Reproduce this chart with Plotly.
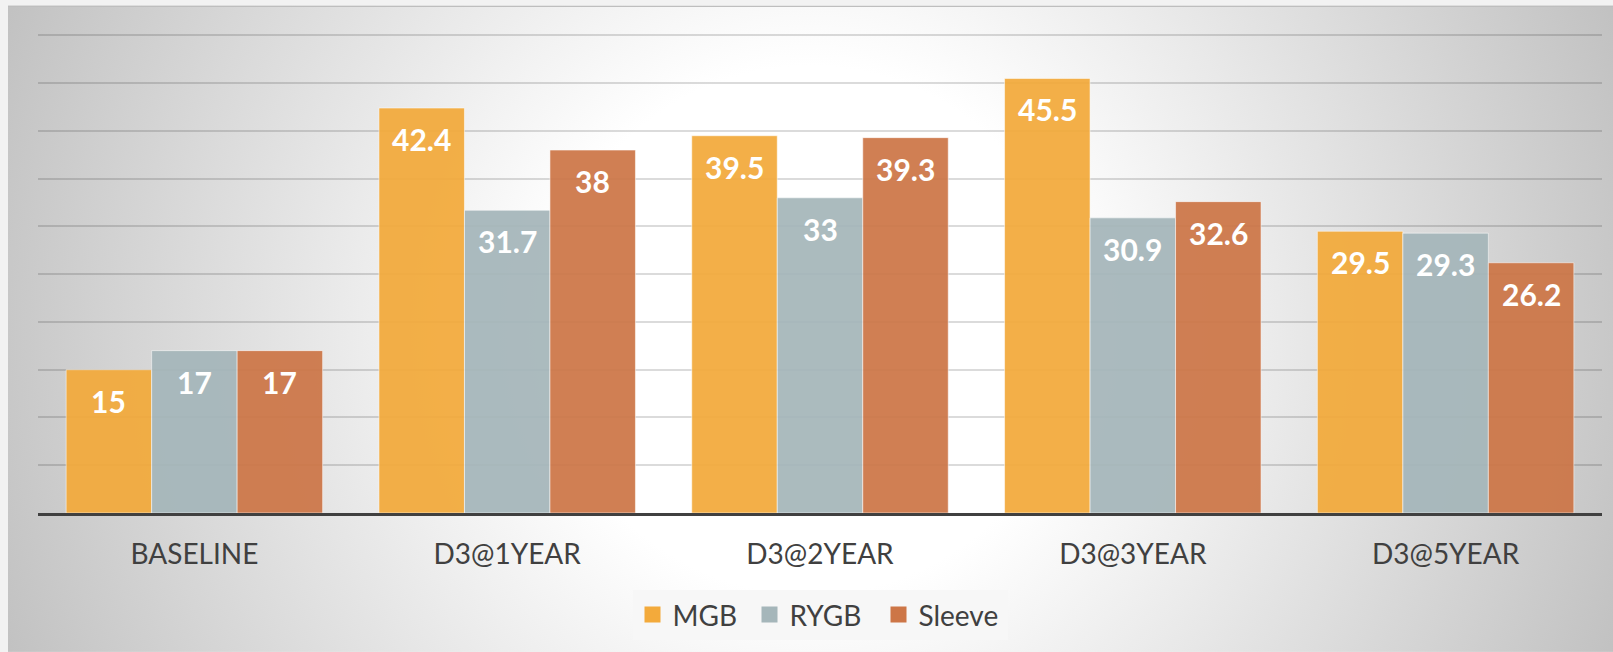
import base64
import plotly.graph_objects as go

# data
categories = ["BASELINE", "D3@1YEAR", "D3@2YEAR", "D3@3YEAR", "D3@5YEAR"]
series_names = ["MGB", "RYGB", "Sleeve"]
mgb = [15, 42.4, 39.5, 45.5, 29.5]
rygb = [17, 31.7, 33, 30.9, 29.3]
sleeve = [17, 38, 39.3, 32.6, 26.2]
colors = ["#f3aa3b", "#a5b6ba", "#cd7647"]
legend_widths = [72, 84, 84]  # px per legend entry, to spread them like the slide

W, H = 1613, 652
ymax = 50.15  # a hair over 50 so the top grid line is kept
ml, mr, mt, mb = 38, 11, 33.6, 139
plot_w = W - ml - mr
plot_h = H - mt - mb
bargap = 0.18
bar_px = plot_w / len(categories) * (1 - bargap) / 3

# soft radial background panel like the slide
svg = (
    '<svg xmlns="http://www.w3.org/2000/svg" width="1605" height="647" '
    'viewBox="0 0 1605 647" preserveAspectRatio="none">'
    '<defs><radialGradient id="g" gradientUnits="userSpaceOnUse" cx="802" cy="325" r="880">'
    '<stop offset="0.3" stop-color="#ffffff"/><stop offset="1" stop-color="#c0c0c0"/>'
    '</radialGradient></defs>'
    '<rect width="1605" height="647" fill="url(#g)"/>'
    '<line x1="0" y1="0.8" x2="1605" y2="0.8" stroke="#bebebe" stroke-width="1.6"/>'
    '</svg>'
)
bg_src = "data:image/svg+xml;base64," + base64.b64encode(svg.encode()).decode()

fig = go.Figure()
for name, vals, col, lw in zip(series_names, [mgb, rygb, sleeve], colors, legend_widths):
    fig.add_trace(go.Bar(
        x=categories, y=vals, name=name,
        marker=dict(color=col, opacity=0.93,
                    line=dict(color="rgba(255,255,255,0.55)", width=1)),
        showlegend=False, hoverinfo="x+y",
    ))
    # legend entry with a bigger square swatch
    fig.add_trace(go.Scatter(
        x=[None], y=[None], mode="markers", name=name, legendwidth=lw,
        marker=dict(symbol="square", size=16, color=col),
    ))

# value labels inside the bar tops
for i, vals in enumerate([mgb, rygb, sleeve]):
    for cat, v in zip(categories, vals):
        fig.add_annotation(
            x=cat, y=v, text=f"{v:g}", showarrow=False,
            xshift=(i - 1) * bar_px, yshift=-31, yanchor="middle",
            font=dict(family="Lato", size=30, color="white", weight="bold"),
        )

fig.update_layout(
    width=W, height=H,
    margin=dict(l=ml, r=mr, t=mt, b=mb),
    paper_bgcolor="#f2f2f2",
    plot_bgcolor="rgba(0,0,0,0)",
    barmode="group", bargap=bargap, bargroupgap=0,
    font=dict(family="Lato", color="#404040"),
    images=[dict(
        source=bg_src, xref="paper", yref="paper",
        x=(8 - ml) / plot_w, y=(H - mb - 5) / plot_h,
        sizex=1605 / plot_w, sizey=647 / plot_h,
        xanchor="left", yanchor="top", sizing="stretch", layer="below",
    )],
    xaxis=dict(
        showline=True, linecolor="#404040", linewidth=3,
        showgrid=False, ticks="",
        tickfont=dict(family="Lato", size=28, color="#404040"),
        ticklabelstandoff=14,
    ),
    yaxis=dict(
        range=[0, ymax], dtick=5, showticklabels=False, zeroline=False,
        showgrid=True, gridcolor="rgba(0,0,0,0.14)", gridwidth=1.5,
    ),
    legend=dict(
        orientation="h", x=0.5, xanchor="center",
        y=(H - mb - 615) / plot_h, yanchor="middle",
        bgcolor="#f7f7f7",
        font=dict(family="Lato", size=28, color="#404040"),
    ),
)

fig.write_html(
    "out.html",
    config={"displayModeBar": False},
    post_script="document.body.style.margin='0';document.body.style.overflow='hidden';",
)
